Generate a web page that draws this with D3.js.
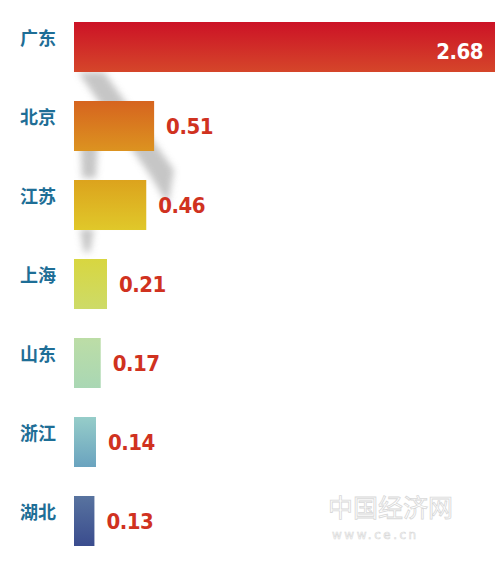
<!DOCTYPE html>
<html>
<head>
<meta charset="utf-8">
<script src="https://cdn.jsdelivr.net/npm/d3@7"></script>
<style>
  body { margin: 0; background: #fff; }
</style>
</head>
<body>
<script>
var w = 500;
var h = 562;

// data
var provinces = ["广东", "北京", "江苏", "上海", "山东", "浙江", "湖北"];
var values = [2.68, 0.51, 0.46, 0.21, 0.17, 0.14, 0.13];
var valueLabels = ["2.68", "0.51", "0.46", "0.21", "0.17", "0.14", "0.13"];
var topColors = ["#cc1226", "#d6641f", "#dca31d", "#d8d640", "#bcdda6", "#96cdc9", "#58739f"];
var bottomColors = ["#d5462a", "#dc9320", "#e0c82a", "#cddb68", "#a9d7b4", "#6aa3bf", "#3a4c8e"];

var svg = d3.select("body")
    .append("svg")
    .attr("width", w)
    .attr("height", h);

var defs = svg.append("defs");

defs.append("filter")
    .attr("id", "blur")
    .attr("x", "-50%").attr("y", "-50%")
    .attr("width", "200%").attr("height", "200%")
    .append("feGaussianBlur")
    .attr("stdDeviation", 3.5);

provinces.forEach(function(p, i) {
    var g = defs.append("linearGradient")
        .attr("id", "grad" + i)
        .attr("x1", 0).attr("y1", 0)
        .attr("x2", 0).attr("y2", 1);
    g.append("stop").attr("offset", "0%").attr("stop-color", topColors[i]);
    g.append("stop").attr("offset", "100%").attr("stop-color", bottomColors[i]);
});

var x = d3.scaleLinear()
    .domain([0, 2.68])
    .range([74, 495]);

var y = d3.scaleBand()
    .domain(provinces)
    .range([22, 546])
    .paddingInner(0.367)
    .paddingOuter(0);

// decorative shadow behind the top bars
var shadow = svg.append("g")
    .attr("filter", "url(#blur)")
    .attr("fill", "#b8b8b8")
    .attr("opacity", 0.8);

shadow.append("path")
    .attr("d", "M78,72 L104,72 L174,170 L168,205 L150,175 Z");
shadow.append("path")
    .attr("d", "M80,130 L98,140 L96,178 L82,178 Z");
shadow.append("path")
    .attr("d", "M80,229 L94,229 L90,252 L84,252 Z");

// bars
svg.selectAll("rect.bar")
    .data(provinces)
    .enter()
    .append("rect")
    .attr("class", "bar")
    .attr("x", x(0))
    .attr("y", function(d) { return y(d); })
    .attr("width", function(d, i) { return x(values[i]) - x(0); })
    .attr("height", y.bandwidth())
    .attr("fill", function(d, i) { return "url(#grad" + i + ")"; });

// province names
svg.selectAll("text.name")
    .data(provinces)
    .enter()
    .append("text")
    .attr("class", "name")
    .text(function(d) { return d; })
    .attr("x", 20)
    .attr("y", function(d) { return y(d) + y.bandwidth() / 2 - 2; })
    .attr("font-size", 18)
    .attr("font-weight", "bold")
    .attr("font-family", "'Noto Sans CJK SC', sans-serif")
    .attr("fill", "#1e6e96");

// value labels
svg.selectAll("text.val")
    .data(provinces)
    .enter()
    .append("text")
    .attr("class", "val")
    .text(function(d, i) { return valueLabels[i]; })
    .attr("x", function(d, i) { return i === 0 ? x(values[i]) - 12 : x(values[i]) + 12; })
    .attr("y", function(d, i) { return y(d) + y.bandwidth() / 2 + (i === 0 ? 12 : 8); })
    .attr("text-anchor", function(d, i) { return i === 0 ? "end" : "start"; })
    .attr("font-size", 22)
    .attr("font-weight", "bold")
    .attr("letter-spacing", -0.5)
    .attr("font-family", "'DejaVu Sans Condensed', 'DejaVu Sans', sans-serif")
    .attr("fill", function(d, i) { return i === 0 ? "#ffffff" : "#d0321f"; });

// watermark
svg.append("text")
    .text("中国经济网")
    .attr("x", 328)
    .attr("y", 517)
    .attr("font-size", 25)
    .attr("font-family", "'Noto Sans CJK SC', sans-serif")
    .attr("fill", "none")
    .attr("stroke", "#d8d8d8")
    .attr("stroke-width", 0.8);

svg.append("text")
    .text("www.ce.cn")
    .attr("x", 332)
    .attr("y", 539)
    .attr("font-size", 12)
    .attr("letter-spacing", 2.5)
    .attr("font-family", "'DejaVu Sans', sans-serif")
    .attr("fill", "none")
    .attr("stroke", "#d8d8d8")
    .attr("stroke-width", 0.6);
</script>
</body>
</html>
